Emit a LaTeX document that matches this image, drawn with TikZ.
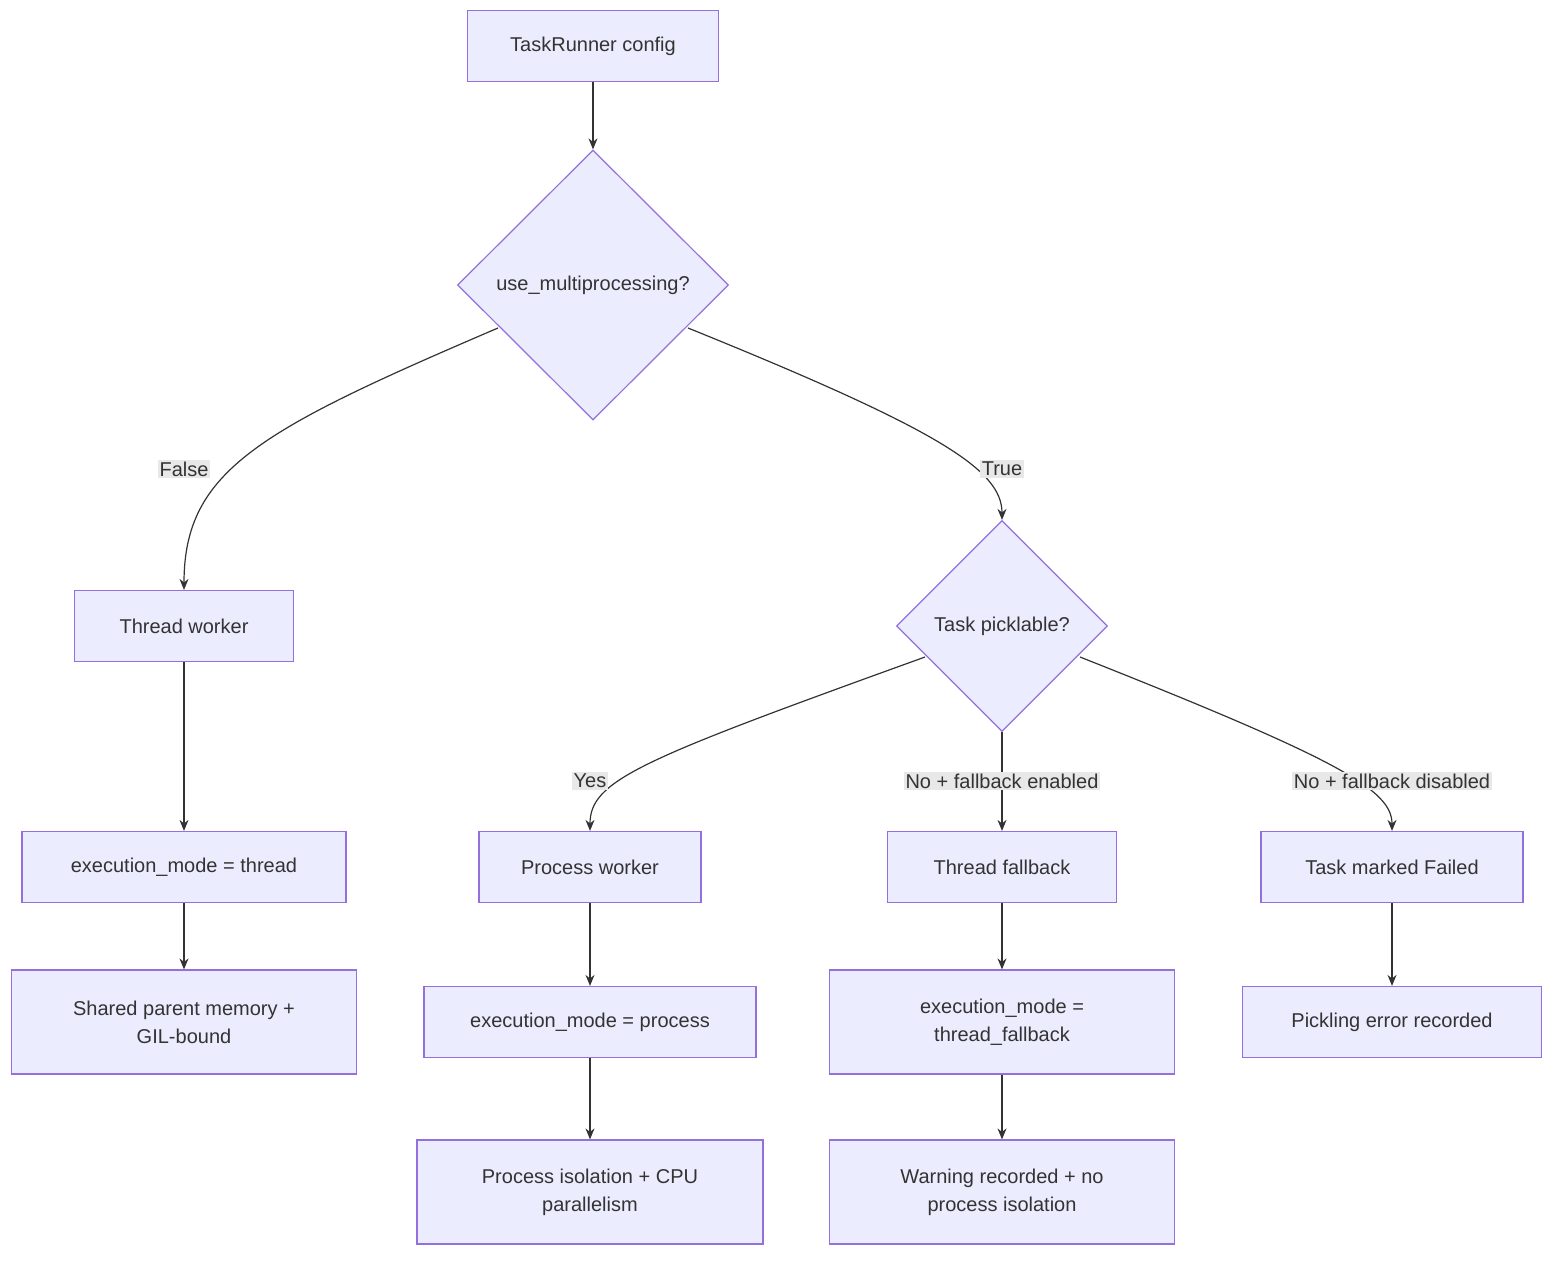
\documentclass[tikz,border=0pt]{standalone}
\usepackage{fontspec}
\setmainfont{Liberation Sans}
\usetikzlibrary{shapes.geometric,arrows.meta}
\definecolor{nfill}{HTML}{ECECFF}
\definecolor{nline}{HTML}{9370DB}
\definecolor{eline}{HTML}{333333}
\definecolor{lbg}{HTML}{E8E8E8}
\begin{document}
\begin{tikzpicture}[x=1pt,y=-1pt,
  every node/.style={font=\fontsize{20}{28}\selectfont, text=eline},
  box/.style={draw=nline, fill=nfill, line width=1.2pt, minimum height=71pt, align=center, inner sep=0pt},
  dia/.style={draw=nline, fill=nfill, line width=1.2pt, diamond, inner sep=0pt, aspect=1},
  lab/.style={fill=lbg, inner sep=2pt},
  edge/.style={draw=eline, line width=1.2pt, -{Stealth[length=11pt,width=9pt]}}]
\useasboundingbox (0,0) rectangle (1568,1268);
\node[box, minimum width=251pt] (cfg) at (593,46) {TaskRunner config};
\node[dia, minimum width=271pt, minimum height=270pt] (mp) at (593,285) {};
\node at (593,285) {use\_multiprocessing?};
\node[box, minimum width=219pt] (tw) at (184,626) {Thread worker};
\node[dia, minimum width=211pt, minimum height=211pt] (pk) at (1002,626) {};
\node at (1002,626) {Task picklable?};
\node[box, minimum width=324pt] (emt) at (184,867) {execution\_mode = thread};
\node[box, minimum width=345pt, minimum height=104pt] (spm) at (184,1022) {Shared parent memory +\\GIL-bound};
\node[box, minimum width=222pt] (pw) at (590,867) {Process worker};
\node[box, minimum width=332pt] (emp) at (590,1022) {execution\_mode = process};
\node[box, minimum width=346pt, minimum height=104pt] (pi) at (590,1192) {Process isolation + CPU\\parallelism};
\node[box, minimum width=229pt] (tf) at (1002,867) {Thread fallback};
\node[box, minimum width=345pt, minimum height=104pt] (emf) at (1002,1022) {execution\_mode =\\thread\_fallback};
\node[box, minimum width=345pt, minimum height=104pt] (wr) at (1002,1192) {Warning recorded + no\\process isolation};
\node[box, minimum width=262pt] (tmf) at (1392,867) {Task marked Failed};
\node[box, minimum width=299pt, minimum height=71pt] (per) at (1392,1022) {Pickling error recorded};
\coordinate (mpL) at (498,328);
\coordinate (mpR) at (688,328);
\coordinate (pkL) at (925,657);
\coordinate (pkR) at (1080,657);
\draw[edge] (cfg) -- (mp);
\draw[edge] (mpL) .. controls (260,430) and (184,470) .. (tw.north);
\draw[edge] (mpR) .. controls (940,430) and (1002,470) .. (pk.north);
\node[lab] at (184,469) {False};
\node[lab] at (1002,469) {True};
\draw[edge] (tw) -- (emt);
\draw[edge] (emt) -- (spm);
\draw[edge] (pkL) .. controls (640,760) and (590,780) .. (pw.north);
\draw[edge] (pk.south) -- (tf.north);
\draw[edge] (pkR) .. controls (1340,760) and (1392,790) .. (tmf.north);
\node[lab] at (590,781) {Yes};
\node[lab] at (1002,781) {No + fallback enabled};
\node[lab] at (1392,781) {No + fallback disabled};
\draw[edge] (pw) -- (emp);
\draw[edge] (emp) -- (pi);
\draw[edge] (tf) -- (emf);
\draw[edge] (emf) -- (wr);
\draw[edge] (tmf) -- (per);
\end{tikzpicture}
\end{document}
